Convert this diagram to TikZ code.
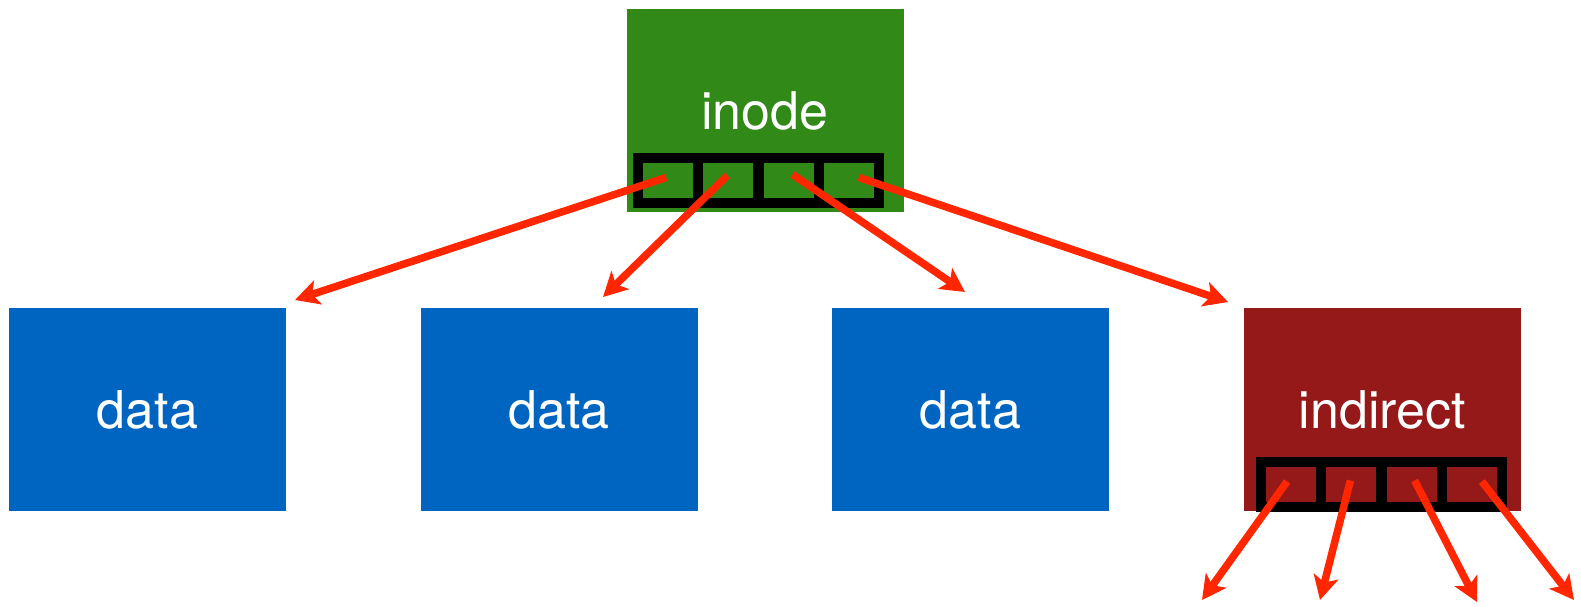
\documentclass[tikz,border=0pt]{standalone}
\usepackage{fontspec}
\setmainfont{TeX Gyre Heros}
\usetikzlibrary{arrows.meta}
\definecolor{inodegreen}{RGB}{49,137,24}
\definecolor{datablue}{RGB}{0,101,192}
\definecolor{indirred}{RGB}{150,25,26}
\definecolor{ptrred}{RGB}{255,38,0}
\begin{document}
\begin{tikzpicture}[x=1pt,y=-1pt,
  block/.style={minimum width=277pt,minimum height=203pt,inner sep=0pt,text=white,font=\fontsize{52}{60}\selectfont},
  slot/.style={draw=black,line width=10pt,minimum width=60.25pt,minimum height=45pt,inner sep=0pt},
  ptr/.style={draw=ptrred,line width=7.5pt,-{Stealth[length=24pt,width=25pt,inset=6pt]}}]
\useasboundingbox (0,0) rectangle (1581,607);

\node[block,fill=inodegreen] (inode) at (765,110.5) {inode};
\node[block,fill=datablue] (data1) at (147.5,409.5) {data};
\node[block,fill=datablue] (data2) at (559,409.5) {data};
\node[block,fill=datablue] (data3) at (970.5,409.5) {data};
\node[block,fill=indirred] (indirect) at (1382.5,409.5) {indirect};

% block pointers of the inode
\node[slot] (islot1) at (668.1,180.5) {};
\node[slot] (islot2) at (728.4,180.5) {};
\node[slot] (islot3) at (788.6,180.5) {};
\node[slot] (islot4) at (848.9,180.5) {};

% block pointers of the indirect block
\node[slot] (xslot1) at (1291.1,484.5) {};
\node[slot] (xslot2) at (1351.4,484.5) {};
\node[slot] (xslot3) at (1411.6,484.5) {};
\node[slot] (xslot4) at (1471.9,484.5) {};

\coordinate (iend1) at (295,300);
\coordinate (iend2) at (603,297);
\coordinate (iend3) at (965,292);
\coordinate (iend4) at (1228,302);
\coordinate (xend1) at (1202,600);
\coordinate (xend2) at (1320,600);
\coordinate (xend3) at (1477,602);
\coordinate (xend4) at (1574,600);

\draw[ptr] ([shift={(-2,-3)}]islot1.center) -- (iend1);
\draw[ptr] ([shift={(-1,-5)}]islot2.center) -- (iend2);
\draw[ptr] ([shift={(4,-6)}]islot3.center) -- (iend3);
\draw[ptr] ([shift={(10,-3)}]islot4.center) -- (iend4);
\draw[ptr] ([shift={(-4,-3)}]xslot1.center) -- (xend1);
\draw[ptr] ([shift={(-1,-4)}]xslot2.center) -- (xend2);
\draw[ptr] ([shift={(3,-4)}]xslot3.center) -- (xend3);
\draw[ptr] ([shift={(10,-3)}]xslot4.center) -- (xend4);
\end{tikzpicture}
\end{document}
